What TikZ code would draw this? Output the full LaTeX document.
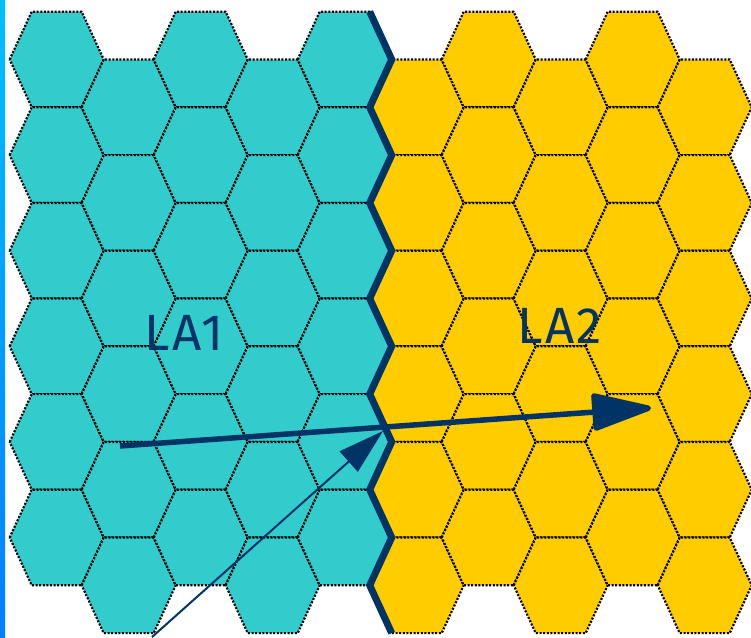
\documentclass[tikz,border=0pt]{standalone}
\usepackage{fontspec}
\setmainfont{Fira Sans}
\newfontfamily\labfont[LetterSpace=4]{Fira Sans}
\usetikzlibrary{arrows.meta}
\definecolor{tealc}{RGB}{51,204,204}
\definecolor{goldc}{RGB}{255,204,0}
\definecolor{navy}{RGB}{0,51,102}
\definecolor{barTop}{RGB}{0,192,255}
\definecolor{barMid}{RGB}{0,16,255}
\definecolor{barBot}{RGB}{0,128,255}
\tikzset{
  hexcell/.style={draw=black, line width=2.2pt, dash pattern=on 2pt off 1.6pt, line join=miter},
  borderline/.style={draw=navy, line width=7pt, line join=miter},
  lalabel/.style={text=navy, font=\labfont\fontsize{51}{55}\selectfont, inner sep=0pt},
  bigarrow/.style={draw=navy, line width=5.5pt, -{Triangle[length=66pt,width=38pt,round]}},
  thinarrow/.style={draw=navy, line width=2pt, -{Triangle[length=46pt,width=27pt]}}
}
\begin{document}
\begin{tikzpicture}[x=1pt,y=-1pt]
\useasboundingbox (0,0) rectangle (751,637);
\fill[white] (0,0) rectangle (751,637);
\shade[top color=barTop, middle color=barMid, bottom color=barBot] (0,0) rectangle (5,637);
\foreach \i in {0,...,9}{
  \pgfmathsetmacro\cx{56.7+72*\i}
  \pgfmathsetmacro\yo{mod(\i,2)==0 ? 59.5 : 107.3}
  \ifnum\i<5 \def\hc{tealc}\else\def\hc{goldc}\fi
  \foreach \j in {0,...,5}{
    \pgfmathsetmacro\cy{\yo+95.6*\j}
    \filldraw[hexcell, fill=\hc] (\cx-47,\cy) -- (\cx-25,\cy-47.8) -- (\cx+25,\cy-47.8)
      -- (\cx+47,\cy) -- (\cx+25,\cy+47.8) -- (\cx-25,\cy+47.8) -- cycle;
  }
}
\draw[borderline] (369.7,11.7) -- (391.7,59.5) -- (369.7,107.3) -- (391.7,155.1)
  -- (369.7,202.9) -- (391.7,250.7) -- (369.7,298.5) -- (391.7,346.3)
  -- (369.7,394.1) -- (391.7,441.9) -- (369.7,489.7) -- (391.7,537.5)
  -- (369.7,585.3) -- (391.7,633.1);
\node[lalabel] (la1) at (184,333) {LA1};
\node[lalabel] (la2) at (560,326) {LA2};
\coordinate (bigstart) at (120,446);
\coordinate (bigend) at (651,408);
\draw[bigarrow] (bigstart) -- (bigend);
\coordinate (thinstart) at (152,637);
\coordinate (thinend) at (383,431);
\draw[thinarrow] (thinstart) -- (thinend);
\end{tikzpicture}
\end{document}
